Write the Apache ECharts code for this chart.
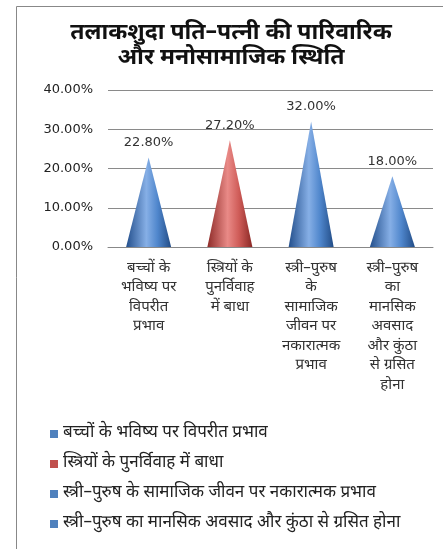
<!DOCTYPE html>
<html>
<head>
<meta charset="utf-8">
<script src="https://cdn.jsdelivr.net/npm/echarts@6/dist/echarts.min.js"></script>
<style>
  html, body { margin: 0; padding: 0; background: #fff; }
  #chart { width: 443px; height: 549px; }
</style>
</head>
<body>
<div id="chart"></div>
<script>
const categories = [
  'बच्चों के भविष्य पर विपरीत प्रभाव',
  'स्त्रियों के पुनर्विवाह में बाधा',
  'स्त्री–पुरुष के सामाजिक जीवन पर नकारात्मक प्रभाव',
  'स्त्री–पुरुष का मानसिक अवसाद और कुंठा से ग्रसित होना'
]
const tickLabels = [
  'बच्चों के\nभविष्य पर\nविपरीत\nप्रभाव',
  'स्त्रियों के\nपुनर्विवाह\nमें बाधा',
  'स्त्री–पुरुष\nके\nसामाजिक\nजीवन पर\nनकारात्मक\nप्रभाव',
  'स्त्री–पुरुष\nका\nमानसिक\nअवसाद\nऔर कुंठा\nसे ग्रसित\nहोना'
]
const values = [22.8, 27.2, 32.0, 18.0]
const colors = ['blue', 'red', 'blue', 'blue']

const fontFam = '"Noto Sans Devanagari", "Lohit Devanagari", Mangal, "Noto Sans", sans-serif'
const numFont = 'Verdana, "DejaVu Sans", sans-serif'

function coneFill(kind) {
  let stops = kind === 'red'
    ? ['#8e2b28', '#e98a87', '#cf5c58', '#8a2825']
    : ['#234f8c', '#86afe6', '#4f86cc', '#224c86']
  return {
    type: 'linear', x: 0, y: 0, x2: 1, y2: 0,
    colorStops: [
      { offset: 0, color: stops[0] },
      { offset: 0.45, color: stops[1] },
      { offset: 0.7, color: stops[2] },
      { offset: 1, color: stops[3] }
    ]
  }
}

const myChart = echarts.init(document.getElementById('chart'))

let series = categories.map((name, i) => {
  let data = values.map((v, j) => j === i ? v : '-')
  return {
    name: name,
    type: 'pictorialBar',
    symbol: 'triangle',
    symbolSize: [45, '100%'],
    barGap: '-100%',
    itemStyle: { color: coneFill(colors[i]) },
    label: {
      show: true,
      position: 'top',
      distance: 8,
      formatter: p => p.value.toFixed(2) + '%',
      color: '#333',
      fontSize: 13,
      fontFamily: numFont
    },
    data: data
  }
})

let option = {
  animation: false,
  title: {
    text: 'तलाकशुदा पति–पत्नी की पारिवारिक\nऔर मनोसामाजिक स्थिति',
    left: 226,
    top: 17,
    textAlign: 'center',
    textStyle: { fontSize: 23, fontWeight: 'bold', color: '#111', lineHeight: 25, fontFamily: fontFam }
  },
  legend: {
    orient: 'vertical',
    left: 50,
    top: 424,
    padding: 0,
    itemWidth: 8,
    itemHeight: 8,
    itemGap: 10,
    icon: 'rect',
    textStyle: { fontSize: 17, lineHeight: 20, color: '#222', fontFamily: fontFam },
    data: categories.map((c, i) => ({ name: c, itemStyle: { color: colors[i] === 'red' ? '#C0504D' : '#4F81BD' } }))
  },
  grid: { left: 108, right: 10, top: 90, height: 157 },
  xAxis: {
    type: 'category',
    data: categories,
    axisLine: { show: true, lineStyle: { color: '#888' } },
    axisTick: { show: false },
    axisLabel: {
      interval: 0,
      formatter: (v, i) => tickLabels[i],
      color: '#333',
      fontSize: 15,
      lineHeight: 19.5,
      margin: 12,
      fontFamily: fontFam
    }
  },
  yAxis: {
    type: 'value',
    min: 0,
    max: 40,
    interval: 10,
    axisLine: { show: false },
    axisTick: { show: false },
    splitLine: { lineStyle: { color: '#8a8a8a', width: 1 } },
    axisLabel: {
      formatter: v => v.toFixed(2) + '%',
      color: '#222',
      fontSize: 13,
      margin: 15,
      fontFamily: numFont
    }
  },
  graphic: [
    { type: 'line', shape: { x1: 16.5, y1: 6.5, x2: 443, y2: 6.5 }, style: { stroke: '#888', lineWidth: 1 } },
    { type: 'line', shape: { x1: 16.5, y1: 6.5, x2: 16.5, y2: 549 }, style: { stroke: '#888', lineWidth: 1 } }
  ],
  series: series
}
myChart.setOption(option)
</script>
</body>
</html>
